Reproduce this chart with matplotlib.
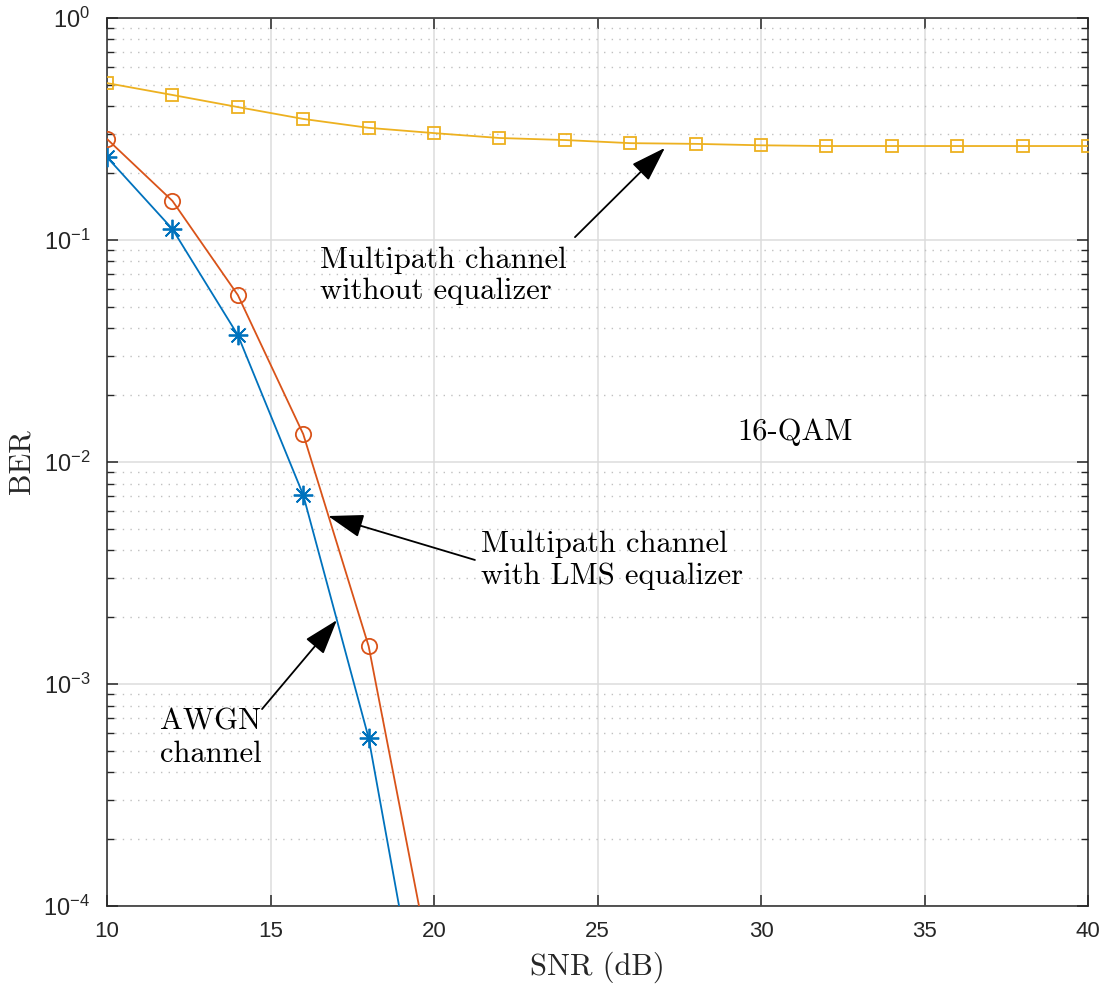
import math

import matplotlib
matplotlib.use("Agg")
import matplotlib.pyplot as plt
from matplotlib.ticker import FixedLocator, FuncFormatter, LogLocator, NullFormatter

# ---- data ----
snr = [10, 12, 14, 16, 18, 20, 22, 24, 26, 28, 30, 32, 34, 36, 38, 40]
ber_no_eq = [0.509, 0.450, 0.397, 0.351, 0.320, 0.303, 0.288, 0.282, 0.273,
             0.271, 0.267, 0.265, 0.265, 0.265, 0.265, 0.265]
snr_short = [10, 12, 14, 16, 18, 20]
ber_lms = [0.285, 0.150, 0.0565, 0.01335, 0.00148, 4.47e-5]
ber_awgn = [0.236, 0.112, 0.0373, 0.0071, 5.71e-4, 1.35e-5]

x_ticks = [10, 15, 20, 25, 30, 35, 40]
y_ticks = [1e-4, 1e-3, 1e-2, 1e-1, 1e0]

BLUE = "#0072BD"
RED = "#D95319"
YELLOW = "#EDB120"
SERIF = "cmr10"
TXT = 22

plt.rcParams["mathtext.fontset"] = "custom"
plt.rcParams["mathtext.rm"] = "Liberation Sans"
plt.rcParams["mathtext.it"] = "Liberation Sans"
plt.rcParams["font.family"] = "Liberation Sans"

fig = plt.figure(figsize=(11.08, 9.88), dpi=100)
ax = fig.add_axes([0.0966, 0.083, 0.8854, 0.8988])

ax.plot(snr_short, ber_awgn, color=BLUE, lw=1.3, marker=(8, 2, 0),
        ms=14, mew=1.3, zorder=3)
ax.plot(snr_short, ber_lms, color=RED, lw=1.3, marker="o", ms=11,
        mfc="none", mew=1.3, zorder=3)
ax.plot(snr, ber_no_eq, color=YELLOW, lw=1.3, marker="s", ms=9,
        mfc="none", mew=1.3, zorder=3)

ax.set_yscale("log")
ax.set_xlim(10, 40)
ax.set_ylim(1e-4, 1)

ax.xaxis.set_major_locator(FixedLocator(x_ticks))
ax.yaxis.set_major_locator(FixedLocator(y_ticks))
ax.yaxis.set_minor_locator(LogLocator(base=10, subs=range(2, 10), numticks=20))
ax.yaxis.set_minor_formatter(NullFormatter())


def log_label(v, pos):
    e = int(round(math.log10(v)))
    return r"$\mathregular{10^{%d}}$" % e


ax.yaxis.set_major_formatter(FuncFormatter(log_label))

ax.tick_params(which="both", direction="in", top=True, right=True,
               colors="#262626")
ax.tick_params(axis="x", labelsize=16, pad=11)
ax.tick_params(axis="y", labelsize=17, pad=12)
ax.tick_params(which="major", length=8, width=1.1)
ax.tick_params(which="minor", length=5, width=1.0)

ax.grid(True, which="major", color="#dcdcdc", lw=1.1, ls="-", zorder=0)
ax.grid(True, which="minor", axis="y", color="#c0c0c0", lw=1.0,
        ls=(0, (1, 4.5)), zorder=0)

for s in ax.spines.values():
    s.set_color("#262626")
    s.set_linewidth(1.1)

ax.set_xlabel("SNR (dB)", fontfamily=SERIF, fontsize=TXT, color="#262626")
ax.set_ylabel("BER", fontfamily=SERIF, fontsize=TXT, color="#262626")
ax.xaxis.set_label_coords(0.5, -0.0687)
ax.yaxis.set_label_coords(-0.087, 0.5)
ax.xaxis.label.set_va("center")
ax.yaxis.label.set_va("center")

arrow = dict(arrowstyle="-|>,head_length=1.0,head_width=0.33", color="k",
             lw=1.3, shrinkA=0, shrinkB=0, mutation_scale=22)

ax.annotate("", xy=(27.06, 0.26), xytext=(24.31, 0.103), arrowprops=arrow)
ax.text(16.51, 0.0689, "Multipath channel\nwithout equalizer",
        fontfamily=SERIF, fontsize=TXT, ha="left", va="center",
        linespacing=1.2)

ax.text(29.27, 0.01365, "16-QAM", fontfamily=SERIF, fontsize=TXT,
        ha="left", va="center")

ax.annotate("", xy=(16.76, 0.00571), xytext=(21.25, 0.00362),
            arrowprops=arrow)
ax.text(21.44, 0.00362, "Multipath channel\nwith LMS equalizer",
        fontfamily=SERIF, fontsize=TXT, ha="left", va="center",
        linespacing=1.2)

ax.annotate("", xy=(17.03, 0.00194), xytext=(14.74, 7.71e-4),
            arrowprops=arrow)
ax.text(11.62, 5.71e-4, "AWGN\nchannel", fontfamily=SERIF, fontsize=TXT,
        ha="left", va="center", linespacing=1.2)

fig.savefig("out.png", dpi=100, facecolor="white")
